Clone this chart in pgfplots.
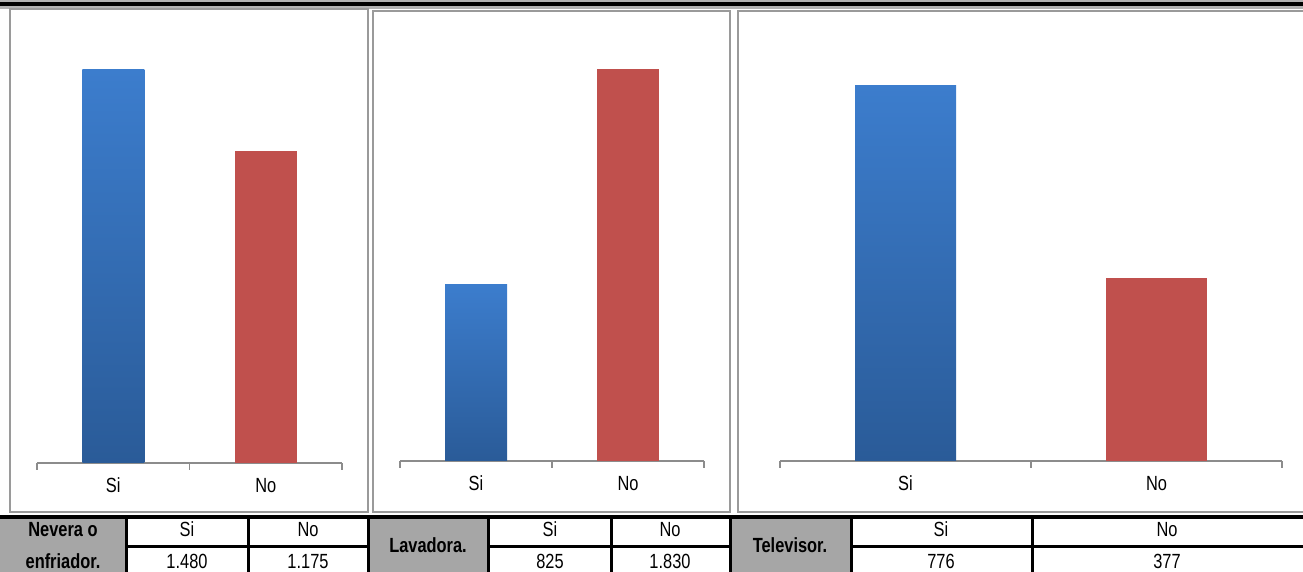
\documentclass[border=0pt]{standalone}
\usepackage{pgfplots}
\pgfplotsset{compat=1.18}
\usepackage{fontspec}
\setmainfont{Liberation Sans}
\newfontfamily\narrow[FakeStretch=0.8]{Liberation Sans}
\definecolor{bTop}{HTML}{3C7DCD}
\definecolor{bBot}{HTML}{2A5B98}
\definecolor{rBar}{HTML}{C0504D}
\definecolor{axg}{HTML}{8C8C8C}
\definecolor{boxg}{HTML}{9A9A9A}
\definecolor{cellg}{HTML}{A6A6A6}
\newcommand{\tf}{\fontsize{20.5}{23}\selectfont\narrow}
\pgfplotsset{panel/.style={
  scale only axis, anchor=south west,
  ymin=0, xmin=-0.5, xmax=1.5,
  axis x line*=bottom, axis y line=none,
  xtick={0,1}, xticklabels={Si,No},
  minor xtick={-0.5,0.5,1.5},
  major tick length=0pt, minor tick length=7pt,
  tick align=outside,
  every tick/.style={axg, line width=1.5pt},
  every minor tick/.style={axg, line width=1.5pt},
  axis line style={axg, line width=1.5pt},
  xticklabel style={font=\tf, anchor=base, yshift=-30pt, text=black},
  clip=false}}
\begin{document}
\begin{tikzpicture}[x=1pt,y=1pt]
\useasboundingbox (0,0) rectangle (1303,572);
% top band
\fill[gray!60] (0,563) rectangle (1303,572);
\fill[black] (0,566) rectangle (1303,570);
% panel boxes
\draw[boxg, line width=1.5pt] (10,60) rectangle (368,563);
\draw[boxg, line width=1.5pt] (373,60) rectangle (730,561);
\draw[boxg, line width=1.5pt] (738,60) rectangle (1320,561);
% panel 1
\begin{axis}[panel, at={(37pt,109pt)}, width=305pt, height=425pt, ymax=1600]
\addplot[ybar, bar width=62pt, bar shift=0pt, draw=none, top color=bTop, bottom color=bBot] coordinates {(0,1480)};
\addplot[ybar, bar width=62pt, bar shift=0pt, draw=none, fill=rBar] coordinates {(1,1175)};
\end{axis}
% panel 2
\begin{axis}[panel, at={(400pt,111pt)}, width=304pt, height=428pt, ymax=2000]
\addplot[ybar, bar width=62pt, bar shift=0pt, draw=none, top color=bTop, bottom color=bBot] coordinates {(0,825)};
\addplot[ybar, bar width=62pt, bar shift=0pt, draw=none, fill=rBar] coordinates {(1,1830)};
\end{axis}
% panel 3
\begin{axis}[panel, at={(780pt,111pt)}, width=502pt, height=436pt, ymax=900]
\addplot[ybar, bar width=101pt, bar shift=0pt, draw=none, top color=bTop, bottom color=bBot] coordinates {(0,776)};
\addplot[ybar, bar width=101pt, bar shift=0pt, draw=none, fill=rBar] coordinates {(1,377)};
\end{axis}
% table
\fill[white] (0,0) rectangle (1303,55);
\fill[cellg] (0,0) rectangle (126,55);
\fill[cellg] (368,0) rectangle (488,55);
\fill[cellg] (730,0) rectangle (851,55);
\draw[black, line width=3.5pt] (0,55) -- (1303,55);
\draw[black, line width=3pt] (126,25) -- (368,25) (488,25) -- (730,25) (851,25) -- (1303,25);
\foreach \xx in {126,248,368,488,611,730,851,1032}{
  \draw[black, line width=3pt] (\xx,0) -- (\xx,55);
}
\node[font=\tf\bfseries, anchor=base] at (63,35) {Nevera o};
\node[font=\tf\bfseries, anchor=base] at (63,3) {enfriador.};
\node[font=\tf\bfseries, anchor=base] at (428,19) {Lavadora.};
\node[font=\tf\bfseries, anchor=base] at (790,19) {Televisor.};
\node[font=\tf, anchor=base] at (187,35) {Si};
\node[font=\tf, anchor=base] at (308,35) {No};
\node[font=\tf, anchor=base] at (187,3) {1.480};
\node[font=\tf, anchor=base] at (308,3) {1.175};
\node[font=\tf, anchor=base] at (550,35) {Si};
\node[font=\tf, anchor=base] at (670,35) {No};
\node[font=\tf, anchor=base] at (550,3) {825};
\node[font=\tf, anchor=base] at (670,3) {1.830};
\node[font=\tf, anchor=base] at (941,35) {Si};
\node[font=\tf, anchor=base] at (1167,35) {No};
\node[font=\tf, anchor=base] at (941,3) {776};
\node[font=\tf, anchor=base] at (1167,3) {377};
\end{tikzpicture}
\end{document}
